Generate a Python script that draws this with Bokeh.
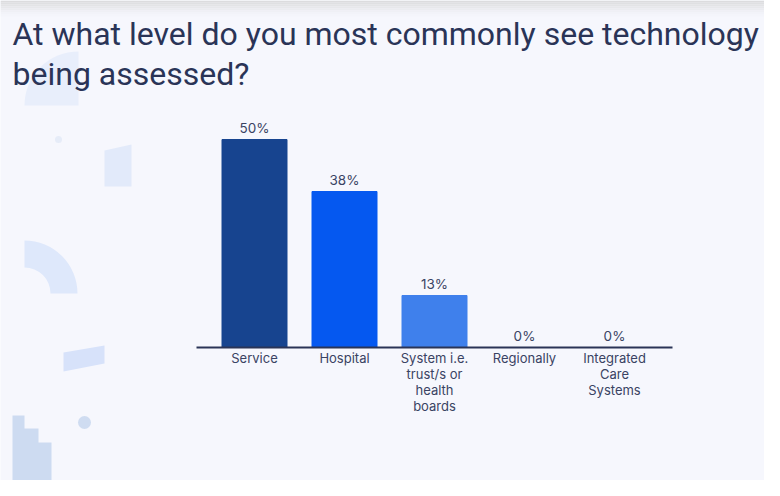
from bokeh.plotting import figure
from bokeh.models import (Range1d, ColumnDataSource, FixedTicker, LinearAxis, Label,
                          PolyAnnotation, BoxAnnotation)
from bokeh.embed import file_html
from bokeh.resources import INLINE
from bokeh.core.properties import value

# ---- data ----
categories = ["Service", "Hospital", "System i.e.\ntrust/s or\nhealth\nboards",
              "Regionally", "Integrated\nCare\nSystems"]
shares = [50, 37.5, 12.5, 0, 0]
share_labels = ["50%", "38%", "13%", "0%", "0%"]
bar_colors = ["#17448f", "#0558f0", "#3f80ec", "#3f80ec", "#3f80ec"]
title_lines = ["At what level do you most commonly see technology", "being assessed?"]

W, H = 764, 480
BG = "#f6f7fd"
TEXT = "#3a4363"
NAVY = "#2a3457"
FONT = "Inter"

# scales: 90 px per category, 4.16 px per percentage point
xs_, xe_ = -254 / 90, -254 / 90 + W / 90
ye_ = 347 / 4.16
ys_ = -(H - 347) / 4.16

def dx(px):
    return xs_ + px / W * (xe_ - xs_)

def dy(py):
    return ye_ - py / H * (ye_ - ys_)

p = figure(width=W, height=H, output_backend="svg", toolbar_location=None,
           x_range=Range1d(xs_, xe_), y_range=Range1d(ys_, ye_),
           x_axis_location=None, y_axis_location=None, min_border=0,
           background_fill_color=BG, border_fill_color=BG, outline_line_color=None)
p.grid.visible = False

# ---- decorative background shapes (reference pixel positions) ----
def poly(pts, color):
    p.add_layout(PolyAnnotation(xs=[dx(a) for a, b in pts], ys=[dy(b) for a, b in pts],
                                fill_color=color, fill_alpha=1, line_color=None, level="underlay"))

# top grey fade
fade = ["#dcdcde", "#dfe0e2", "#e3e4e6", "#e7e8eb", "#ebecf0", "#eff0f5", "#f2f3f9", "#f4f5fb"]
for i, c in enumerate(fade):
    p.add_layout(BoxAnnotation(top=dy(i * 2), bottom=dy((i + 1) * 2),
                               fill_color=c, fill_alpha=1, line_color=None, level="underlay"))

p.wedge(x=[dx(78)], y=[dy(105)], radius=54, radius_units="screen",
        start_angle=1.5708, end_angle=3.1416, fill_color="#e8eefb", line_color=None)
p.scatter(x=[dx(58)], y=[dy(139)], size=7, fill_color="#e6ecf8", line_color=None)
poly([(104, 150), (131, 144), (131, 186), (104, 186)], "#e2eafa")
p.annular_wedge(x=[dx(24)], y=[dy(293)], inner_radius=26, outer_radius=53,
                inner_radius_units="screen", outer_radius_units="screen",
                start_angle=0, end_angle=1.5708, fill_color="#dee8fb", line_color=None)
poly([(63, 352), (104, 345), (104, 363), (63, 371)], "#d7e2fa")
p.scatter(x=[dx(84)], y=[dy(422)], size=13, fill_color="#cfdcf1", line_color=None)
poly([(12, 415), (24, 415), (24, 428), (38, 428), (38, 442), (51, 442), (51, 482), (12, 482)],
     "#cddbf1")

# ---- bars ----
x = list(range(len(categories)))
src = ColumnDataSource(dict(x=x, top=shares, color=bar_colors, lab=share_labels))
p.vbar(x="x", top="top", bottom=0, width=65 / 90, fill_color="color", line_color="color",
       source=src)
p.text(x="x", y="top", text="lab", source=src, text_align="center", text_baseline="bottom",
       y_offset=-4, text_font=value(FONT), text_font_size="13.5px", text_color=TEXT)

# ---- x axis at zero ----
ax = LinearAxis(ticker=FixedTicker(ticks=x), fixed_location=0,
                bounds=(-0.644, len(categories) - 1 + 0.644),
                major_label_overrides={i: c for i, c in zip(x, categories)})
ax.axis_line_color = NAVY
ax.axis_line_width = 2
ax.major_tick_line_color = None
ax.minor_tick_line_color = None
ax.major_label_standoff = -4
ax.major_label_text_font = FONT
ax.major_label_text_font_size = "13px"
ax.major_label_text_color = TEXT
ax.major_label_text_line_height = 1.0
p.add_layout(ax, "below")

# ---- title ----
for i, t in enumerate(title_lines):
    p.add_layout(Label(x=dx(12), y=dy(33 + i * 40), text=t, text_font="Roboto",
                       text_font_size="32px", text_color=NAVY, text_baseline="alphabetic"))

open("out.html", "w").write(file_html(p, INLINE))
